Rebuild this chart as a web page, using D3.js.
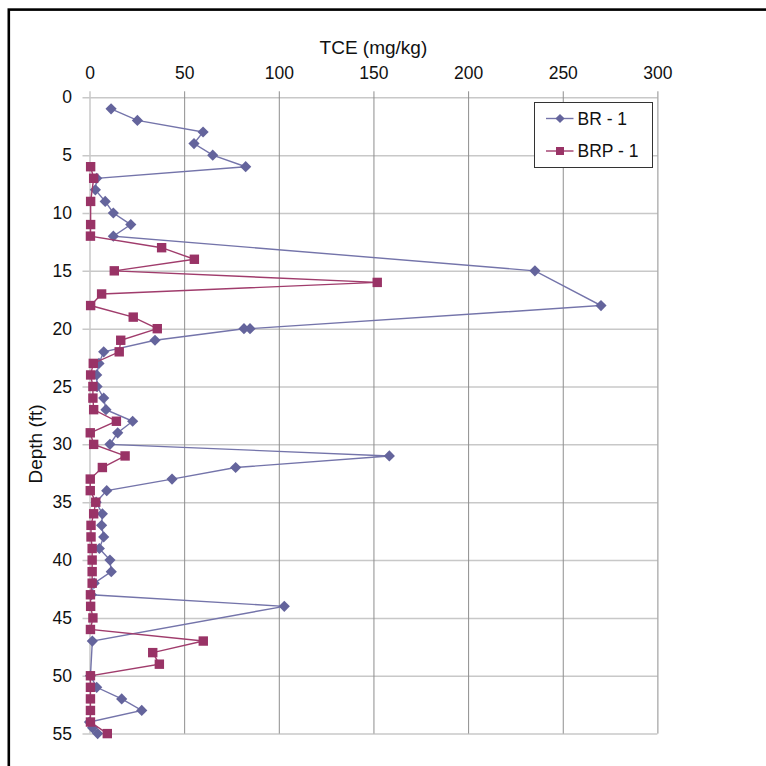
<!DOCTYPE html>
<html>
<head>
<meta charset="utf-8">
<script src="https://cdn.jsdelivr.net/npm/d3@7"></script>
<style>
  html, body { margin: 0; padding: 0; background: #fff; }
  svg { display: block; font-family: "Liberation Sans", Arial, sans-serif; }
</style>
</head>
<body>
<svg id="chart" width="766" height="766"></svg>
<script>
// ---- data ----
const xTicks = [0, 50, 100, 150, 200, 250, 300];
const yTicks = [0, 5, 10, 15, 20, 25, 30, 35, 40, 45, 50, 55];

const brName = "BR - 1";
const brDepth = [1,2,3,4,5,6,7,8,9,10,11,12,15,18,20,20,21,22,23,24,25,26,27,28,29,30,31,32,33,34,35,36,37,38,39,40,41,42,43,44,47,50,51,52,53,54,54.5,55];
const brTCE   = [11.4,25.3,60,55.2,65.1,82.5,3.8,3.1,8.3,12.6,21.8,12.6,235.3,270.2,84.8,81.6,34.6,7.5,5,3.8,4,7.5,8.7,22.8,14.9,10.8,158.4,77.2,43.6,9.1,3.5,6.8,6.4,7.5,5.2,10.8,11.5,2.5,1,102.9,1.5,0.5,3.8,17,27.6,0,1.6,4.3];

const brpName = "BRP - 1";
const brpDepth = [6,7,9,11,12,13,14,15,16,17,18,19,20,21,22,23,24,25,26,27,28,29,30,31,32,33,34,35,36,37,38,39,40,41,42,43,44,45,46,47,48,49,50,51,52,53,54,55];
const brpTCE   = [0.6,2.2,0.6,0.6,0.5,38.1,55.4,13.1,152,6.4,0.6,23.1,35.8,16.5,15.7,2,0.6,1.8,1.8,2.2,14.2,0.4,2.2,18.8,6.8,0.4,0.4,3.3,2.2,0.8,0.8,1.4,1.4,1.4,1.4,0.5,0.6,1.8,0.5,60.1,33.4,36.9,0.5,0.5,0.5,0.5,0.5,9.4];

(function () {
// ---- layout ----
const svg = d3.select("#chart");
const pLeft = 89.5, pRight = 657.4, pTop = 97.3, pBottom = 733.6;
const x = d3.scaleLinear().domain([0, 300]).range([pLeft, pRight]);
const y = d3.scaleLinear().domain([0, 55]).range([pTop, pBottom]);

const brColor = "#64649c", brLine = "#7474aa";
const brpColor = "#993366", brpLine = "#a03c6c";

// outer frame (cropped: only top and left visible)
svg.append("rect").attr("x", 8.8).attr("y", 9.6).attr("width", 900).attr("height", 900)
  .attr("fill", "none").attr("stroke", "#000").attr("stroke-width", 2.6);

// horizontal gridlines
const yAxis = d3.axisLeft(y).tickValues(yTicks).tickSize(-(pRight - pLeft)).tickSizeOuter(0).tickPadding(17.5);
const gy = svg.append("g").attr("transform", `translate(${pLeft},0)`).call(yAxis);
gy.select(".domain").remove();
gy.selectAll(".tick line").attr("stroke", "#c8c8c8").attr("stroke-width", 1.5).attr("x1", -7);
gy.selectAll(".tick text").attr("font-size", 17.5).attr("fill", "#111")
  .attr("font-family", '"Liberation Sans", Arial, sans-serif');

// vertical gridlines + top axis
const xAxis = d3.axisTop(x).tickValues(xTicks).tickSize(-(pBottom - pTop)).tickSizeOuter(0).tickPadding(18);
const gx = svg.append("g").attr("transform", `translate(0,${pTop})`).call(xAxis);
gx.select(".domain").remove();
gx.selectAll(".tick line").attr("stroke", "#8e8e8e").attr("stroke-width", 1).attr("y1", -6);
gx.selectAll(".tick").filter(d => d === 0).select("line").attr("stroke", "#c8c8c8").attr("stroke-width", 1.5);
gx.selectAll(".tick text").attr("font-size", 17.5).attr("fill", "#111")
  .attr("font-family", '"Liberation Sans", Arial, sans-serif');

// axis titles
svg.append("text").attr("x", (pLeft + pRight) / 2).attr("y", 54)
  .attr("text-anchor", "middle").attr("font-size", 19).attr("fill", "#111").text("TCE (mg/kg)");
svg.append("text").attr("transform", "translate(41.5,444) rotate(-90)")
  .attr("text-anchor", "middle").attr("font-size", 19).attr("fill", "#111").text("Depth (ft)");

// ---- series ----
const line = d3.line().x(d => x(d[0])).y(d => y(d[1]));
const brData = brDepth.map((d, i) => [brTCE[i], d]);
const brpData = brpDepth.map((d, i) => [brpTCE[i], d]);

const diamond = (s) => `M0,${-s}L${s},0L0,${s}L${-s},0Z`;

svg.append("path").datum(brData).attr("d", line)
  .attr("fill", "none").attr("stroke", brLine).attr("stroke-width", 1.4);
svg.append("g").selectAll("path").data(brData).join("path")
  .attr("transform", d => `translate(${x(d[0])},${y(d[1])})`)
  .attr("d", diamond(5.6)).attr("fill", brColor);

svg.append("path").datum(brpData).attr("d", line)
  .attr("fill", "none").attr("stroke", brpLine).attr("stroke-width", 1.4);
svg.append("g").selectAll("rect").data(brpData).join("rect")
  .attr("x", d => x(d[0]) - 4.7).attr("y", d => y(d[1]) - 4.7)
  .attr("width", 9.4).attr("height", 9.4).attr("fill", brpColor);

// ---- legend ----
const lg = svg.append("g");
lg.append("rect").attr("x", 534.5).attr("y", 102.5).attr("width", 118).attr("height", 65)
  .attr("fill", "#fff").attr("stroke", "#333").attr("stroke-width", 1);
const entries = [
  { name: brName, color: brColor, lineColor: brLine, shape: "diamond", yy: 118.5 },
  { name: brpName, color: brpColor, lineColor: brpLine, shape: "square", yy: 151 }
];
entries.forEach(e => {
  lg.append("line").attr("x1", 546).attr("x2", 573.5).attr("y1", e.yy).attr("y2", e.yy)
    .attr("stroke", e.lineColor).attr("stroke-width", 1.4);
  if (e.shape === "diamond") {
    lg.append("path").attr("transform", `translate(560,${e.yy})`).attr("d", diamond(4.6)).attr("fill", e.color);
  } else {
    lg.append("rect").attr("x", 556).attr("y", e.yy - 4).attr("width", 8).attr("height", 8).attr("fill", e.color);
  }
  lg.append("text").attr("x", 577.5).attr("y", e.yy + 6.3).attr("font-size", 17.5).attr("fill", "#111").text(e.name);
});
})();
</script>
</body>
</html>
